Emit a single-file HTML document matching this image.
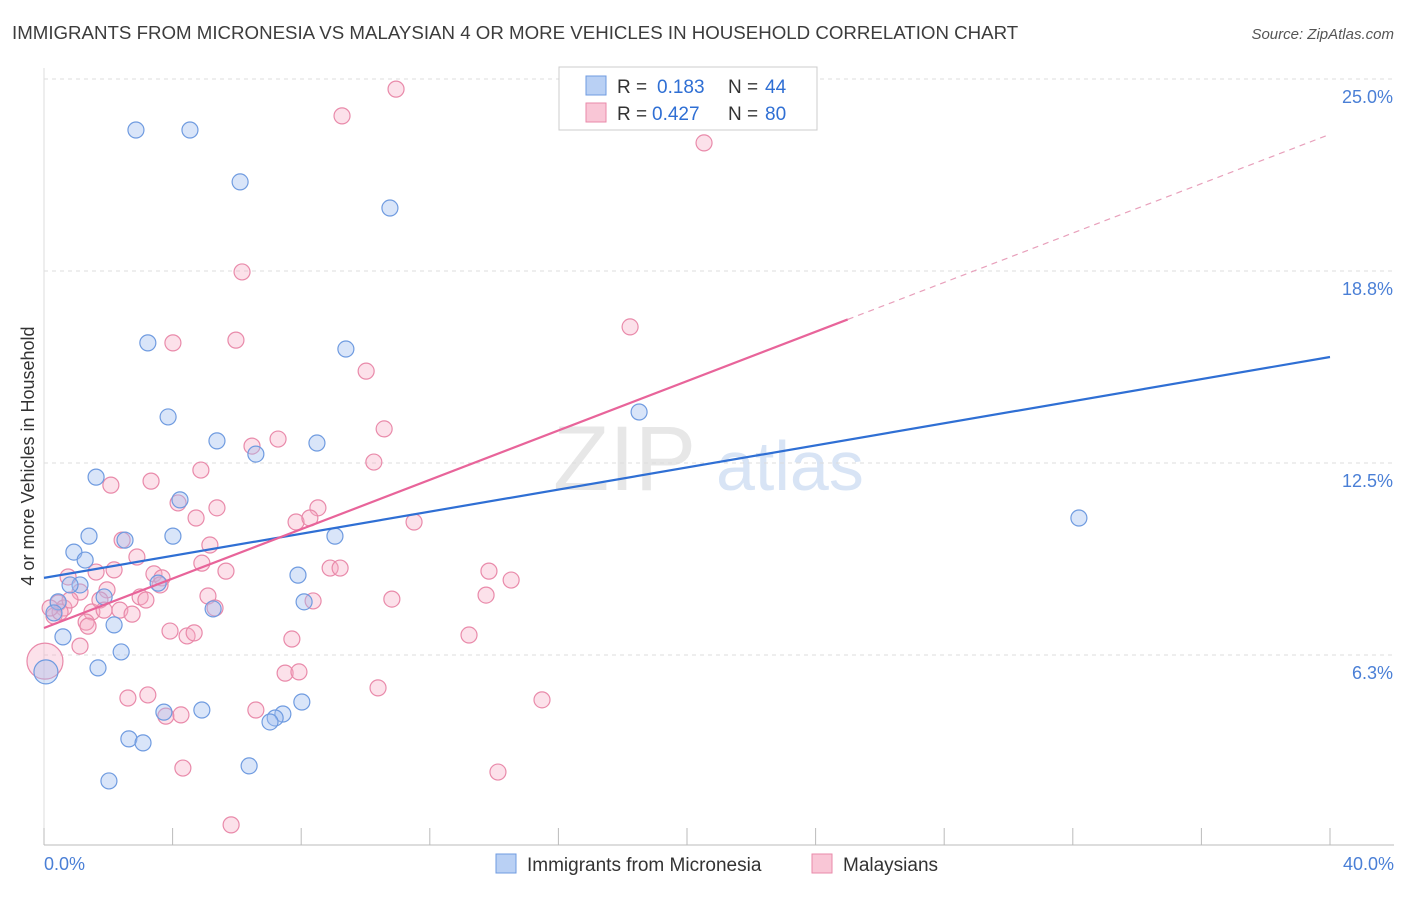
<!DOCTYPE html>
<html><head><meta charset="utf-8"><style>
body{margin:0;background:#fff;font-family:"Liberation Sans",sans-serif}
svg text{font-family:"Liberation Sans",sans-serif}
</style></head><body>
<svg id="chart" width="1406" height="892" viewBox="0 0 1406 892" xmlns="http://www.w3.org/2000/svg">
<text x="12" y="39" font-size="18.7" fill="#3c3c3c">IMMIGRANTS FROM MICRONESIA VS MALAYSIAN 4 OR MORE VEHICLES IN HOUSEHOLD CORRELATION CHART</text>
<text x="1394" y="39" font-size="15" fill="#555" font-style="italic" text-anchor="end">Source: ZipAtlas.com</text>
<g><text x="553" y="490" font-size="92" fill="#ddd" font-family="Liberation Serif" opacity="0.7">ZIP</text><text x="716" y="490" font-size="70" fill="#c8daf2" opacity="0.7">atlas</text></g>
<g id="grid"></g>
<g id="axes"></g>
<g id="points"></g>
<g id="lines"></g>
<text transform="translate(34,456) rotate(-90)" font-size="18" fill="#333" text-anchor="middle">4 or more Vehicles in Household</text>
<g>
<rect x="559" y="67" width="258" height="63" fill="#fff" stroke="#ccc"/>
<rect x="586" y="76" width="20" height="19" fill="#b9d0f4" stroke="#6f9be0"/>
<text x="617" y="93" font-size="19" fill="#333">R = </text><text x="657" y="93" font-size="19" fill="#2f6fd4">0.183</text>
<text x="728" y="93" font-size="19" fill="#333">N = </text><text x="765" y="93" font-size="19" fill="#2f6fd4">44</text>
<rect x="586" y="103" width="20" height="19" fill="#f9c6d6" stroke="#e98aaa"/>
<text x="617" y="120" font-size="19" fill="#333">R = </text><text x="652" y="120" font-size="19" fill="#2f6fd4">0.427</text>
<text x="728" y="120" font-size="19" fill="#333">N = </text><text x="765" y="120" font-size="19" fill="#2f6fd4">80</text>
</g>
<g>
<rect x="496" y="854" width="20" height="19" fill="#b9d0f4" stroke="#6f9be0"/>
<text x="527" y="871" font-size="19" fill="#333">Immigrants from Micronesia</text>
<rect x="812" y="854" width="20" height="19" fill="#f9c6d6" stroke="#e98aaa"/>
<text x="843" y="871" font-size="19" fill="#333">Malaysians</text>
</g>
</svg>
<script>
const yTicks=[6.25,12.5,18.75,25];
const yTickLabels=["6.3%","12.5%","18.8%","25.0%"];
const xTickLabels=["0.0%","40.0%"];
const blueX=[2.86,4.54,6.10,10.76,3.23,9.39,3.86,5.38,6.59,8.49,18.51,1.62,4.23,32.19,1.40,2.52,4.01,9.05,0.93,1.28,1.12,3.55,7.90,1.87,0.44,8.09,5.26,0.31,2.18,0.59,2.40,1.68,0.06,3.73,4.91,8.02,7.43,7.19,7.03,2.64,3.08,6.38,2.02,0.81];
const blueY=[23.34,23.34,21.65,20.80,16.41,16.21,14.00,13.22,12.79,13.15,14.16,12.04,11.30,10.71,10.12,9.99,10.12,10.12,9.60,9.34,8.53,8.59,8.85,8.14,7.98,7.98,7.75,7.62,7.23,6.84,6.35,5.83,5.70,4.39,4.46,4.72,4.33,4.20,4.07,3.52,3.39,2.64,2.15,8.53];
const pinkX=[10.95,9.27,20.53,6.16,18.23,5.97,4.01,10.02,10.58,6.47,7.28,10.26,4.88,2.08,3.33,4.17,5.38,8.52,4.73,7.84,8.27,11.51,2.43,5.16,2.89,0.75,1.62,2.18,3.42,3.67,5.66,8.90,9.21,13.84,14.53,4.91,1.12,1.96,2.99,3.17,5.10,8.37,10.82,13.75,0.44,0.62,1.49,2.36,2.74,0.31,1.31,1.37,3.92,4.45,4.67,7.71,13.22,1.12,0.03,7.50,7.93,10.39,15.49,2.61,3.23,6.59,3.79,4.26,4.32,14.12,5.82,1.74,0.81,1.87,0.50,3.61,0.19,5.32];
const pinkY=[24.67,23.80,22.92,18.72,16.93,16.50,16.41,15.49,13.61,13.05,13.28,12.53,12.27,11.78,11.91,11.20,11.04,11.04,10.71,10.58,10.71,10.58,9.99,9.83,9.44,8.79,8.95,9.02,8.89,8.76,8.98,9.08,9.08,8.98,8.69,9.24,8.30,8.37,8.14,8.04,8.17,8.01,8.07,8.20,7.94,7.78,7.65,7.71,7.58,7.52,7.32,7.19,7.03,6.87,6.97,6.77,6.90,6.54,6.05,5.66,5.70,5.18,4.79,4.85,4.95,4.46,4.26,4.30,2.57,2.44,0.72,8.04,8.04,7.71,7.65,8.53,7.78,7.78];
const blueLine=[8.76,15.95];
const pinkLine=[7.13,23.2];
const pinkSolidEnd=25.0;
const NS="http://www.w3.org/2000/svg";
const xs=v=>44+v/40*1286;
const ys=v=>847-v*30.72;
function mk(tag,attrs,parent){const e=document.createElementNS(NS,tag);for(const k in attrs)e.setAttribute(k,attrs[k]);parent.appendChild(e);return e;}
const grid=document.getElementById('grid'),axes=document.getElementById('axes'),pts=document.getElementById('points'),lines=document.getElementById('lines');
yTicks.forEach((t,i)=>{
 const l=mk('line',{x1:44,x2:1394,y1:ys(t),y2:ys(t),stroke:'#ddd','stroke-dasharray':'4,4'},grid);
 
 
 const tx=mk('text',{x:1393,y:ys(t)+24,'font-size':18,fill:'#4a7fd6','text-anchor':'end'},axes);
 tx.textContent=yTickLabels[i];
 
 
});
const ax=mk('line',{x1:44,x2:1394,y1:845,y2:845,stroke:'#bbb'},axes);


const ay=mk('line',{x1:44,x2:44,y1:68,y2:845,stroke:'#ddd'},axes);


for(let i=0;i<=10;i++){
 const t=mk('line',{x1:xs(i*4),x2:xs(i*4),y1:828,y2:845,stroke:'#bbb'},axes);
 
 
}
[[0,'start',44],[40,'end',1394]].forEach((d,i)=>{
 const t=mk('text',{x:d[2],y:870,'font-size':18,fill:'#4a7fd6','text-anchor':d[1]},axes);
 t.textContent=xTickLabels[i];
 
 
});
function drawPts(X,Y,fill,stroke,name){
 X.forEach((x,i)=>{
  let r=8; if(x<0.1) r=(name==='pink-point')?18:12;
  const c=mk('circle',{cx:xs(x),cy:ys(Y[i]),r:r,fill:fill,stroke:stroke,'stroke-width':1.2},pts);
  
  
 });
}
drawPts(pinkX,pinkY,'rgba(245,170,195,0.35)','#e98aaa','pink-point');
drawPts(blueX,blueY,'rgba(160,190,240,0.4)','#6f9be0','blue-point');
const bl=mk('line',{x1:xs(0),y1:ys(blueLine[0]),x2:xs(40),y2:ys(blueLine[1]),stroke:'#2f6fd4','stroke-width':2.2},lines);


const py=x=>pinkLine[0]+(pinkLine[1]-pinkLine[0])*x/40;
const pl=mk('line',{x1:xs(0),y1:ys(py(0)),x2:xs(pinkSolidEnd),y2:ys(py(pinkSolidEnd)),stroke:'#e8649a','stroke-width':2.2},lines);


const pd=mk('line',{x1:xs(pinkSolidEnd),y1:ys(py(pinkSolidEnd)),x2:xs(40),y2:ys(py(40)),stroke:'#e8a0bb','stroke-width':1.2,'stroke-dasharray':'6,5'},lines);


</script>
</body></html>
